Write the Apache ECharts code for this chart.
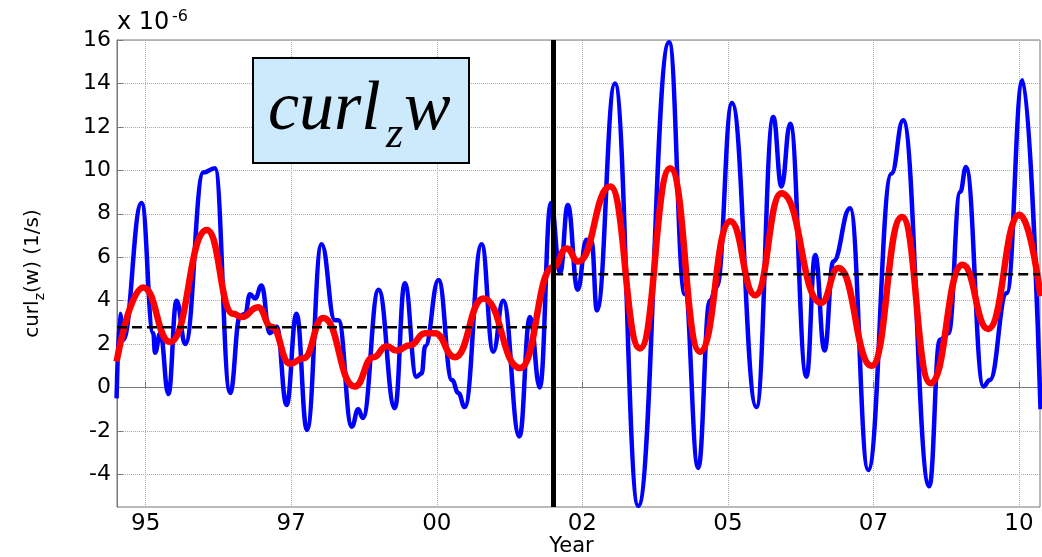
<!DOCTYPE html>
<html>
<head>
<meta charset="utf-8">
<script src="https://cdn.jsdelivr.net/npm/echarts@6/dist/echarts.min.js"></script>
<style>
html, body { margin: 0; padding: 0; background: #fff; }
#main { width: 1042px; height: 557px; }
</style>
</head>
<body>
<div id="main"></div>
<script>
// curl_z(w) 原始序列 (x 1e-6 1/s)
var curlYears = [1994.50, 1994.56, 1994.61, 1994.93, 1995.13, 1995.16, 1995.25, 1995.39, 1995.53, 1995.68,
	1995.99, 1996.19, 1996.45, 1996.62, 1996.71, 1996.79, 1996.88, 1996.99, 1997.13, 1997.25,
	1997.42, 1997.59, 1997.77, 1998.02, 1998.25, 1998.31, 1998.54, 1998.65, 1998.73, 1999.00,
	1999.28, 1999.45, 1999.65, 1999.74, 1999.80, 2000.03, 2000.26, 2000.37, 2000.48, 2000.77,
	2000.97, 2001.14, 2001.42, 2001.60, 2001.77, 2001.96, 2002.12, 2002.25, 2002.42, 2002.57,
	2002.66, 2002.75, 2003.06, 2003.46, 2003.99, 2004.26, 2004.49, 2004.69, 2004.81, 2005.07,
	2005.49, 2005.78, 2005.92, 2006.07, 2006.35, 2006.50, 2006.66, 2006.81, 2007.10, 2007.41,
	2007.81, 2008.01, 2008.46, 2008.64, 2008.79, 2008.99, 2009.09, 2009.39, 2009.50, 2009.79,
	2010.06, 2010.37];
var curlValues = [-0.5, 3.4, 2.2, 8.5, 2.5, 1.6, 2.5, -0.3, 4.0, 2.0,
	9.9, 10.1, -0.25, 3.3, 3.4, 4.3, 4.1, 4.7, 2.5, 2.8,
	-0.8, 3.4, -1.95, 6.6, 3.1, 3.1, -1.8, -1.0, -1.4, 4.5,
	-0.95, 4.8, 0.5, 0.65, 1.9, 4.95, 0.35, -0.25, -0.9, 6.6,
	1.65, 4.0, -2.25, 3.25, 0.0, 8.5, 5.3, 8.4, 4.5, 6.8,
	6.7, 3.55, 14.0, -5.45, 15.9, 4.3, -3.7, 4.0, 4.65, 13.1,
	-0.9, 12.45, 9.25, 12.15, 0.5, 6.1, 1.7, 5.8, 8.25, -3.8,
	9.85, 12.3, -4.55, 2.2, 2.5, 9.0, 10.15, 0.05, 0.35, 4.35,
	14.15, -1.0];

// 平滑后的序列
var smoothYears = [1994.50, 1994.96, 1995.42, 1996.05, 1996.50, 1996.65, 1996.93, 1997.16, 1997.48, 1997.71,
	1998.05, 1998.59, 1998.91, 1999.14, 1999.31, 1999.54, 1999.80, 1999.97, 2000.31, 2000.80,
	2001.43, 2002.00, 2002.23, 2002.43, 2002.98, 2003.49, 2004.01, 2004.52, 2005.04, 2005.47,
	2005.92, 2006.60, 2006.90, 2007.47, 2007.99, 2008.48, 2009.03, 2009.47, 2010.01, 2010.37];
var smoothValues = [1.2, 4.6, 2.1, 7.25, 3.4, 3.25, 3.7, 2.8, 1.1, 1.35,
	3.2, 0.05, 1.4, 1.9, 1.7, 1.95, 2.5, 2.5, 1.4, 4.1,
	0.9, 5.55, 6.4, 5.8, 9.25, 1.8, 10.1, 1.65, 7.65, 4.25,
	8.95, 3.9, 5.5, 1.0, 7.85, 0.2, 5.65, 2.7, 7.95, 4.2];

// 分段均值
var periodEdges = [1994.507, 2002.0, 2010.361];
var periodMeans = [2.77, 5.21];
var splitYear = 2002.0;

// 坐标轴刻度
var xTickValues = [1995, 1997.5, 2000, 2002.5, 2005, 2007.5, 2010];
var xTickLabels = ['95', '97', '00', '02', '05', '07', '10'];
var yTickValues = [-4, -2, 0, 2, 4, 6, 8, 10, 12, 14, 16];
var yMin = -5.5, yMax = 16;

function zip(xs, ys) {
	var out = [];
	for (var i = 0; i < xs.length; i++) {
		out.push([xs[i], ys[i]]);
	}
	return out;
}

var labelFont = 'DejaVu Sans';
var chart = echarts.init(document.getElementById('main'), null, { renderer: 'canvas' });

chart.setOption({
	animation: false,
	backgroundColor: '#fff',
	grid: {
		left: 117, right: 2, top: 40, bottom: 50,
		show: true, borderColor: '#777', borderWidth: 1,
		outerBoundsMode: 'none'
	},
	xAxis: {
		type: 'value',
		min: periodEdges[0],
		max: periodEdges[2],
		name: 'Year',
		nameLocation: 'middle',
		nameGap: 29,
		nameMoveOverlap: false,
		nameTextStyle: { fontFamily: labelFont, fontSize: 21, color: '#000', padding: [0, 14, 0, 0] },
		axisLine: { show: true, lineStyle: { color: '#777', width: 1 } },
		axisTick: { show: true, inside: true, length: 6, customValues: xTickValues, lineStyle: { color: '#777' } },
		axisLabel: {
			customValues: xTickValues,
			fontFamily: labelFont, fontSize: 23, color: '#000', margin: 6,
			formatter: function(v) {
				var i = xTickValues.indexOf(v);
				return i >= 0 ? xTickLabels[i] : '';
			}
		},
		splitLine: { show: true, lineStyle: { color: '#aaa', type: 'dotted', width: 1 } }
	},
	yAxis: {
		type: 'value',
		min: yMin,
		max: yMax,
		name: '{a|curl}{b|z}{a|(w) (1/s)}',
		nameLocation: 'middle',
		nameGap: 70,
		nameTextStyle: {
			rich: {
				a: { fontFamily: labelFont, fontSize: 20, color: '#000' },
				b: { fontFamily: labelFont, fontSize: 14, color: '#000', padding: [14, 0, 0, 0] }
			}
		},
		axisLine: { show: true, lineStyle: { color: '#777', width: 1 } },
		axisTick: { show: true, inside: true, length: 6, customValues: yTickValues, lineStyle: { color: '#777' } },
		axisLabel: {
			customValues: yTickValues,
			fontFamily: labelFont, fontSize: 22, color: '#000', margin: 6
		},
		splitLine: { show: true, lineStyle: { color: '#aaa', type: 'dotted', width: 1 } }
	},
	graphic: [
		{ type: 'text', x: 117, y: 35, style: { text: 'x 10', font: '24px "DejaVu Sans"', fill: '#000', verticalAlign: 'bottom' } },
		{ type: 'text', x: 172, y: 25, style: { text: '-6', font: '16px "DejaVu Sans"', fill: '#000', verticalAlign: 'bottom' } },
		{ type: 'rect', shape: { x: 253, y: 58, width: 216, height: 105 }, style: { fill: '#cdeafc', stroke: '#000', lineWidth: 2 }, z: 100 },
		{ type: 'text', x: 268, y: 111, z: 101, style: { text: 'curl', font: 'italic 70px "Liberation Serif"', fill: '#000', verticalAlign: 'middle' } },
		{ type: 'text', x: 386, y: 135, z: 101, style: { text: 'z', font: 'italic 44px "Liberation Serif"', fill: '#000', verticalAlign: 'middle' } },
		{ type: 'text', x: 404, y: 111, z: 101, style: { text: 'w', font: 'italic 70px "Liberation Serif"', fill: '#000', verticalAlign: 'middle' } }
	],
	series: [
		{
			name: 'curl',
			type: 'line',
			data: zip(curlYears, curlValues),
			showSymbol: false,
			smooth: 0.45,
			smoothMonotone: 'x',
			lineStyle: { color: '#0000ff', width: 4.5 },
			z: 2
		},
		{
			name: 'smooth',
			type: 'line',
			data: zip(smoothYears, smoothValues),
			showSymbol: false,
			smooth: 0.5,
			smoothMonotone: 'x',
			lineStyle: { color: '#ff0000', width: 6.5 },
			z: 3
		},
		{
			name: 'mean1',
			type: 'line',
			data: [[periodEdges[0], periodMeans[0]], [periodEdges[1], periodMeans[0]]],
			showSymbol: false,
			lineStyle: { color: '#000', width: 2.5, type: [10, 5] },
			z: 4
		},
		{
			name: 'mean2',
			type: 'line',
			data: [[periodEdges[1], periodMeans[1]], [periodEdges[2], periodMeans[1]]],
			showSymbol: false,
			lineStyle: { color: '#000', width: 2.5, type: [10, 5] },
			z: 4,
			markLine: {
				silent: true,
				symbol: 'none',
				label: { show: false },
				lineStyle: { color: '#000', width: 5, type: 'solid' },
				data: [{ xAxis: splitYear }]
			}
		}
	]
});
</script>
</body>
</html>
